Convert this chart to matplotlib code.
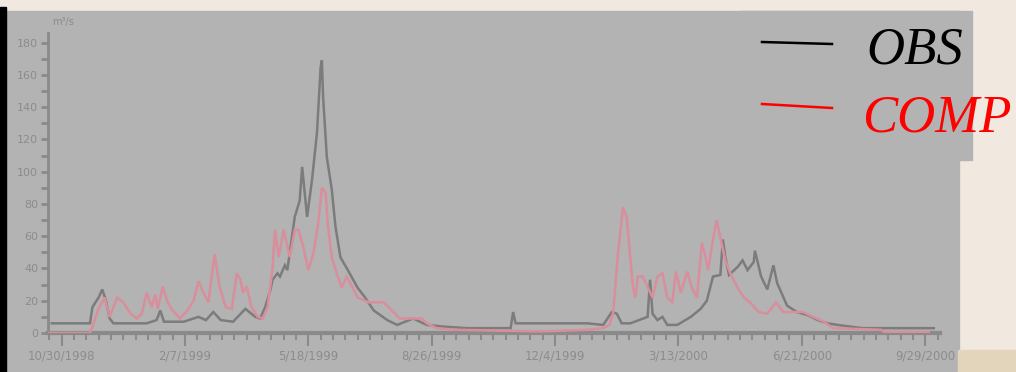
import matplotlib
matplotlib.use("Agg")
import matplotlib.pyplot as plt
import matplotlib.dates as mdates
from matplotlib.patches import Rectangle
from matplotlib.ticker import MultipleLocator
import pandas as pd

# Hydrograph: observed vs computed discharge (m3/s)
START = "1998-10-19"

# days after START, observed discharge
obs_days = [3, 34, 36, 41, 44, 47, 50, 53, 80, 88, 91, 94, 110, 122, 128, 134, 140, 150,
            160, 168, 172, 176, 180, 182, 186, 188, 192, 194, 200, 204, 206, 210, 214, 218,
            221, 222, 223, 226, 230, 233, 237, 243, 251, 257, 264, 275, 283, 296, 307, 320,
            340, 375, 377, 379, 437, 450, 457, 461, 465, 472, 486, 488, 490, 494, 498, 502,
            510, 521, 529, 534, 539, 545, 547, 549, 552, 559, 563, 567, 572, 573, 578, 583,
            588, 591, 595, 599, 607, 616, 624, 632, 640, 660, 718]
obs_vals = [6, 6, 16, 22, 27, 20, 9, 6, 6, 8, 14, 7, 7, 10, 8, 13, 8, 7,
            15, 10, 9, 16, 26, 33, 37, 35, 42, 39, 72, 82, 103, 72, 95, 124,
            165, 169, 146, 109, 89, 66, 47, 39, 28, 22, 14, 8, 5, 9, 5, 4,
            3, 3, 13, 6, 6, 5, 13, 12, 6, 6, 10, 33, 12, 8, 10, 5,
            5, 10, 15, 20, 35, 36, 58, 47, 36, 41, 45, 39, 44, 51, 35, 27,
            42, 31, 24, 17, 13, 11, 8, 6, 5, 3, 3]

# days after START, computed discharge
comp_days = [1, 34, 36, 41, 46, 50, 56, 61, 67, 72, 76, 80, 84, 87, 89, 93, 97, 101, 107,
             113, 118, 122, 126, 130, 135, 139, 144, 149, 153, 156, 158, 161, 165, 170, 174,
             178, 182, 184, 187, 191, 196, 200, 203, 207, 211, 215, 219, 222, 225, 227, 230,
             234, 238, 242, 247, 251, 260, 267, 272, 276, 280, 285, 296, 303, 307, 315, 330,
             400, 437, 450, 455, 458, 462, 466, 469, 474, 476, 478, 482, 487, 490, 494, 498,
             502, 506, 509, 513, 518, 522, 526, 530, 533, 535, 539, 542, 545, 549, 553, 559,
             564, 569, 576, 583, 590, 596, 612, 620, 629, 636, 675, 678, 714]
comp_vals = [0, 0, 4, 15, 22, 10, 22, 19, 12, 9, 12, 25, 16, 24, 15, 29, 19, 14, 9,
             14, 20, 32, 25, 19, 49, 29, 16, 15, 37, 33, 25, 29, 16, 10, 9,
             16, 40, 64, 47, 64, 47, 64, 64, 53, 39, 49, 68, 90, 87, 66, 47,
             37, 28, 35, 28, 22, 19, 19, 19, 16, 13, 9, 9, 9, 6, 3, 2,
             1, 2, 3, 5, 12, 49, 78, 72, 29, 22, 35, 35, 27, 22, 35, 37,
             22, 19, 38, 25, 38, 28, 22, 56, 47, 39, 58, 70, 59, 45, 37, 28,
             22, 19, 13, 12, 19, 13, 13, 10, 7, 3, 2, 0.5, 0.5]

tick_dates = ["1998-10-30", "1999-02-07", "1999-05-18", "1999-08-26",
              "1999-12-04", "2000-03-13", "2000-06-21", "2000-09-29"]
tick_labels = ["10/30/1998", "2/7/1999", "5/18/1999", "8/26/1999",
               "12/4/1999", "3/13/2000", "6/21/2000", "9/29/2000"]
y_ticks = [0, 20, 40, 60, 80, 100, 120, 140, 160, 180]

W, H = 1016, 372
BEIGE = "#f1e9df"
PANEL = "#b3b3b3"
AXC = "#8a8a8a"

def fx(px):
    return px / W

def fy(py):
    return 1 - py / H

fig = plt.figure(figsize=(W / 100, H / 100), dpi=100, facecolor=BEIGE)

# background blocks: chart panel, legend panel, black edge, tan corner
fig.add_artist(Rectangle((fx(6), fy(372)), fx(959) - fx(6), fy(11) - fy(372),
                         transform=fig.transFigure, color=PANEL, zorder=0))
fig.add_artist(Rectangle((fx(740), fy(160)), fx(972) - fx(740), fy(11) - fy(160),
                         transform=fig.transFigure, color=PANEL, zorder=0))
fig.add_artist(Rectangle((fx(0), fy(372)), fx(6), fy(7) - fy(372),
                         transform=fig.transFigure, color="black", zorder=0))
fig.add_artist(Rectangle((fx(958), fy(372)), fx(1016) - fx(958), fy(350) - fy(372),
                         transform=fig.transFigure, color="#e2d5bb", zorder=0))

ax = fig.add_axes([fx(48), fy(333), fx(940) - fx(48), fy(33) - fy(333)])
ax.set_facecolor("none")

start = pd.Timestamp(START)
obs_x = start + pd.to_timedelta(obs_days, unit="D")
comp_x = start + pd.to_timedelta(comp_days, unit="D")

ax.plot(obs_x, obs_vals, color="#7c7c7c", lw=1.8, solid_joinstyle="miter", zorder=3)
ax.plot(comp_x, comp_vals, color="#d98e9c", lw=1.8, solid_joinstyle="miter", zorder=4)

ax.set_xlim(start, start + pd.Timedelta(days=723))
ax.set_ylim(0, 186)

for s in ["top", "right"]:
    ax.spines[s].set_visible(False)
ax.spines["left"].set_color(AXC)
ax.spines["left"].set_linewidth(2)
ax.spines["bottom"].set_color(AXC)
ax.spines["bottom"].set_linewidth(3)

ax.set_yticks(y_ticks)
ax.set_yticklabels([str(v) for v in y_ticks])
ax.yaxis.set_minor_locator(MultipleLocator(10))
ax.set_xticks(pd.to_datetime(tick_dates))
ax.set_xticklabels(tick_labels)
minor = pd.date_range(start + pd.Timedelta(days=1), periods=73, freq="10D")
ax.set_xticks(minor, minor=True)

ax.tick_params(axis="y", which="both", length=5, width=2, color=AXC,
               labelsize=8, labelcolor="#8c8c8c", pad=2)
ax.tick_params(axis="x", which="major", length=9, width=1.5, color=AXC,
               labelsize=8.5, labelcolor="#8c8c8c", pad=3)
ax.tick_params(axis="x", which="minor", length=5, width=1.5, color=AXC)

fig.text(fx(52), fy(22), "m³/s", fontsize=7, color="#8c8c8c", va="center")

# legend drawn by hand like the slide
fig.add_artist(plt.Line2D([fx(762), fx(832)], [fy(42), fy(44)], color="black", lw=1.8,
                          transform=fig.transFigure))
fig.add_artist(plt.Line2D([fx(762), fx(832)], [fy(104), fy(108)], color="red", lw=1.8,
                          transform=fig.transFigure))
fig.text(fx(866), fy(50), "OBS", family="Liberation Serif", style="italic",
         fontsize=38, color="black", va="center", ha="left")
fig.text(fx(862), fy(119), "COMP", family="Liberation Serif", style="italic",
         fontsize=38, color="red", va="center", ha="left")

fig.savefig("out.png", dpi=100, facecolor=BEIGE)
